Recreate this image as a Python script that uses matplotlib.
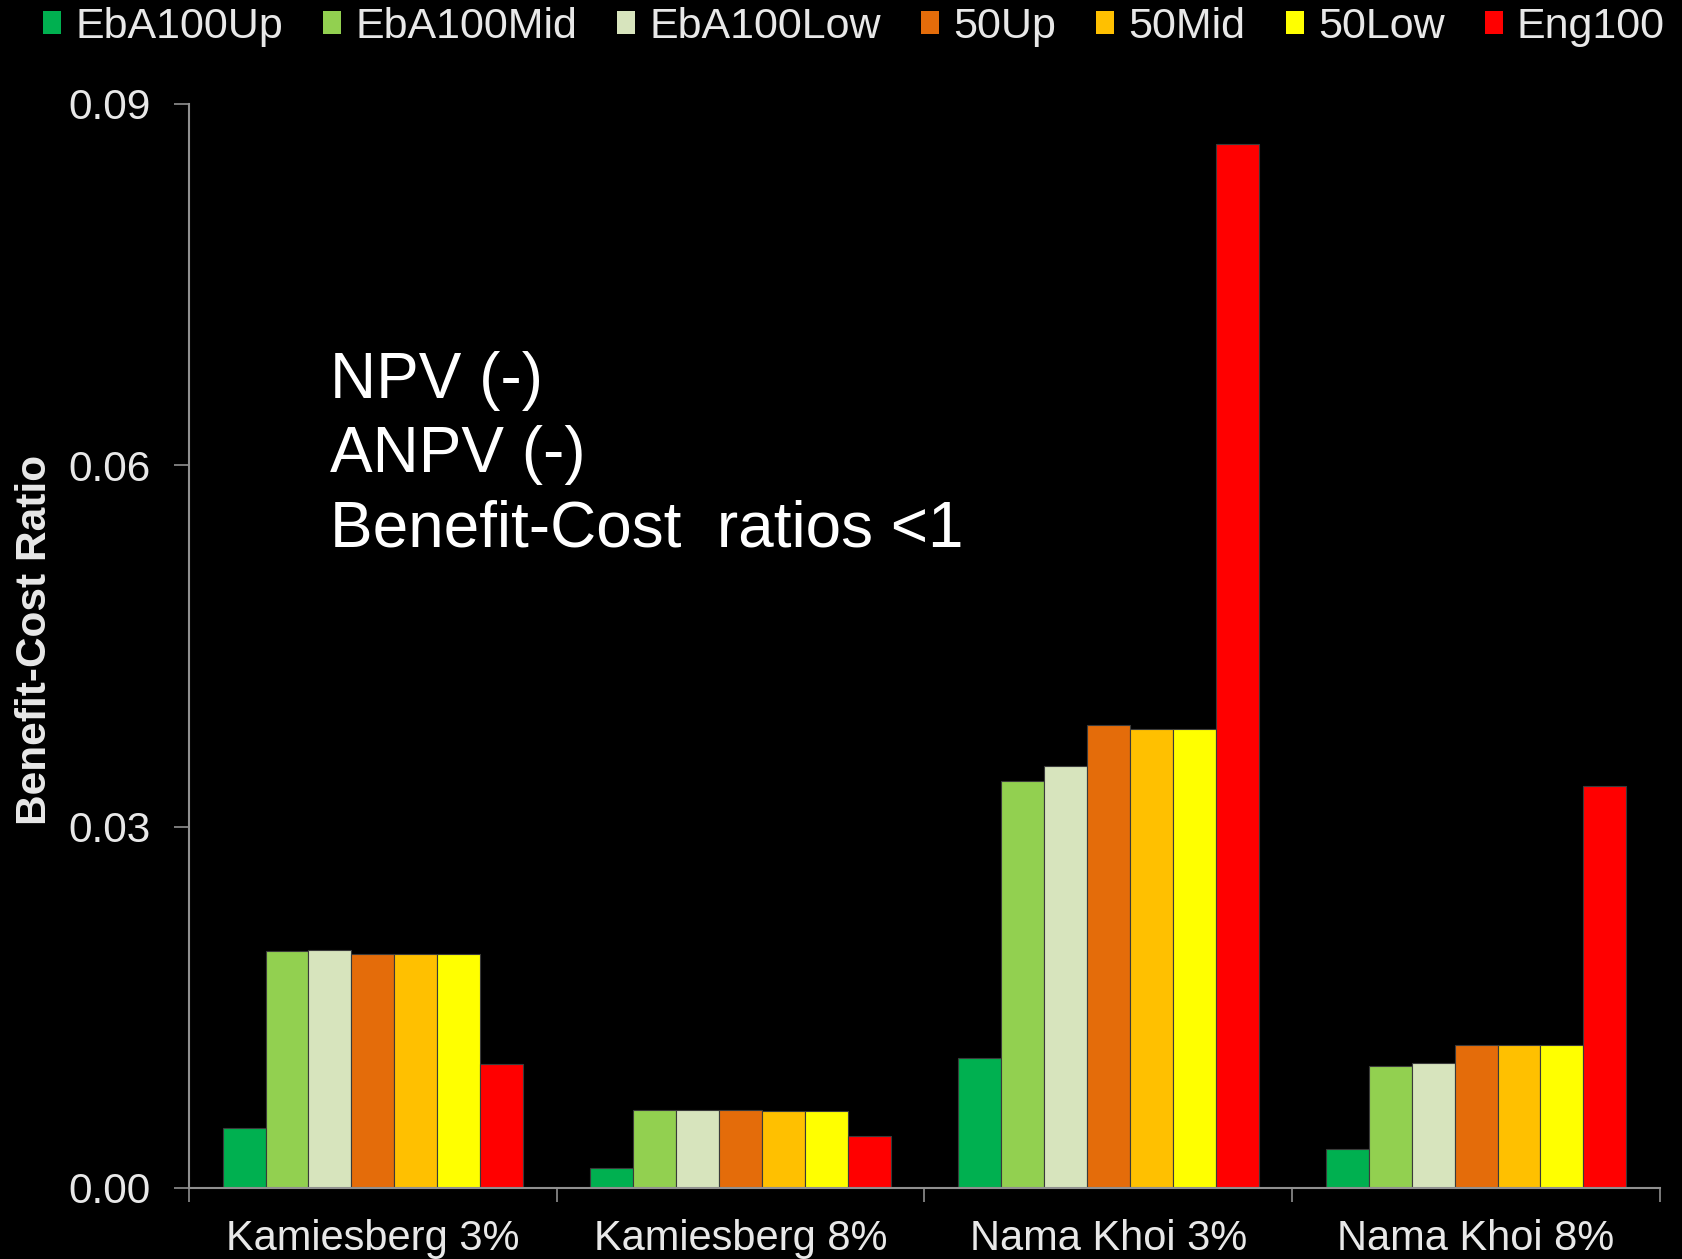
import numpy as np
import matplotlib as mpl
mpl.use('Agg')
import matplotlib.pyplot as plt
from matplotlib.patches import Patch

# categories and series
sites = ['Kamiesberg 3%', 'Kamiesberg 8%', 'Nama Khoi 3%', 'Nama Khoi 8%']
series = ['EbA100Up', 'EbA100Mid', 'EbA100Low', '50Up', '50Mid', '50Low', 'Eng100']
eba100_up = [0.0050, 0.0017, 0.0108, 0.0032]
eba100_mid = [0.0197, 0.0065, 0.0338, 0.0101]
eba100_low = [0.0198, 0.0065, 0.0350, 0.0104]
up50 = [0.0194, 0.0065, 0.0384, 0.0119]
mid50 = [0.0194, 0.0064, 0.0381, 0.0119]
low50 = [0.0194, 0.0064, 0.0381, 0.0119]
eng100 = [0.0103, 0.0043, 0.0867, 0.0334]
colors = ['#00B050', '#92D050', '#D7E4BD', '#E46C0A', '#FFC000', '#FFFF00', '#FF0000']
yticks = [0.00, 0.03, 0.06, 0.09]
ytick_labels = ['0.00', '0.03', '0.06', '0.09']
note = 'NPV (-)\nANPV (-)\nBenefit-Cost  ratios <1'

values = [eba100_up, eba100_mid, eba100_low, up50, mid50, low50, eng100]

fig = plt.figure(figsize=(16.83, 12.59), dpi=100, facecolor='black')
ax = fig.add_axes([0.1123, 0.0564, 0.874, 0.861], facecolor='black')

x = np.arange(len(sites))
w = 0.1167
for i, (vals, c) in enumerate(zip(values, colors)):
    ax.bar(x + (i - 3) * w, vals, width=w, color=c, edgecolor='#3a3a3a',
           linewidth=0.8, label=series[i])

ax.set_xlim(-0.5, len(sites) - 0.5)
ax.set_ylim(0, 0.09)
ax.set_yticks(yticks)
ax.set_yticklabels(ytick_labels, fontsize=30.5, color='#e8e8e8',
                   family='Liberation Sans')
ax.tick_params(axis='y', length=11, width=1.2, color='#909090', pad=16.5)

ax.set_xticks(x)
ax.set_xticklabels(sites, fontsize=30, color='#e8e8e8', family='Liberation Sans')
ax.set_xticks(np.arange(len(sites) + 1) - 0.5, minor=True)
ax.tick_params(axis='x', which='major', length=0, pad=22)
ax.tick_params(axis='x', which='minor', length=10, width=1.2, color='#909090')

for s in ['top', 'right']:
    ax.spines[s].set_visible(False)
for s in ['left', 'bottom']:
    ax.spines[s].set_color('#909090')
    ax.spines[s].set_linewidth(1.5)

fig.text(0.021, 0.4914, 'Benefit-Cost Ratio', rotation=90,
         fontsize=30.5, fontweight='bold', color='#e8e8e8',
         family='Liberation Sans', ha='center', va='center')

ax.text(0.0959, 0.772, note, transform=ax.transAxes, fontsize=46,
        color='white', family='Liberation Sans', va='top', ha='left',
        linespacing=1.3)

handles = [Patch(facecolor=c, edgecolor='none') for c in colors]
fig.legend(handles, series, loc='center left',
           bbox_to_anchor=(43 / 1683, 1 - 27 / 1259), ncol=7, frameon=False,
           prop={'family': 'Liberation Sans', 'size': 31},
           labelcolor='#e8e8e8', handlelength=0.42, handleheight=0.42,
           handletextpad=0.33, columnspacing=0.93, borderpad=0,
           borderaxespad=0)

plt.savefig('out.png', dpi=100, facecolor='black')
